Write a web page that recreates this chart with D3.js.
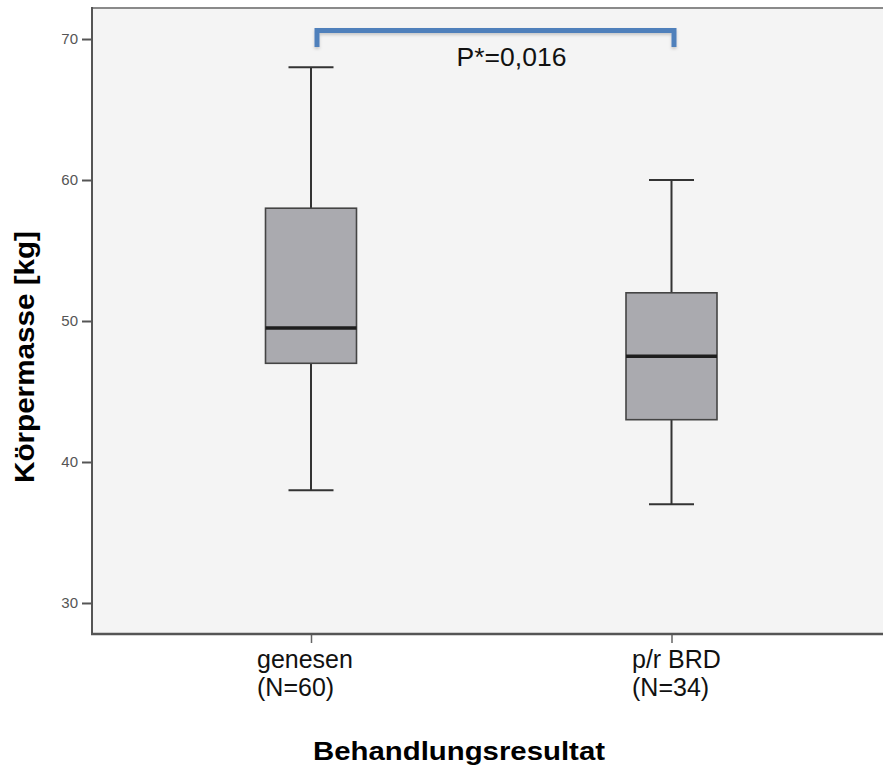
<!DOCTYPE html>
<html>
<head>
<meta charset="utf-8">
<script src="https://cdn.jsdelivr.net/npm/d3@7/dist/d3.min.js"></script>
<style>
  html, body { margin: 0; padding: 0; background: #ffffff; }
  svg { display: block; }
  text { font-family: "Liberation Sans", Arial, Helvetica, sans-serif; }
</style>
</head>
<body>
<svg id="chart" width="883" height="771"></svg>
<script>
// ---- data ----
const categories = ["genesen", "p/r BRD"];
const categoryLabels = [["genesen", "(N=60)"], ["p/r BRD", "(N=34)"]];
const whiskerLow  = [38, 37];
const q1          = [47, 43];
const median      = [49.5, 47.5];
const q3          = [58, 52];
const whiskerHigh = [68, 60];
const yTicks = [30, 40, 50, 60, 70];
const pValueText = "P*=0,016";
const yTitle = "Körpermasse [kg]";
const xTitle = "Behandlungsresultat";

// ---- layout ----
const plot = { left: 92, top: 8, right: 883, bottom: 634 };
const svg = d3.select("#chart");

const y = d3.scaleLinear().domain([27.8, 72.2]).range([plot.bottom, plot.top]);
const x = d3.scalePoint().domain(categories).range([311, 671.5]);

const boxW = 91, capW = 45;

// background
svg.append("rect")
  .attr("x", plot.left).attr("y", plot.top)
  .attr("width", plot.right - plot.left).attr("height", plot.bottom - plot.top)
  .attr("fill", "#f4f4f4");

// top border
svg.append("line")
  .attr("x1", plot.left).attr("x2", plot.right)
  .attr("y1", plot.top).attr("y2", plot.top)
  .attr("stroke", "#8a8a8a").attr("stroke-width", 2);

// y axis
const yAxis = d3.axisLeft(y).tickValues(yTicks).tickSize(10).tickPadding(4).tickFormat(d3.format("d"));
const gy = svg.append("g").attr("transform", `translate(${plot.left},0)`).call(yAxis);
gy.select(".domain").remove();
gy.selectAll(".tick line").attr("stroke", "#555").attr("stroke-width", 2);
gy.selectAll(".tick text").attr("fill", "#555").style("font-size", "15px");
svg.append("line")
  .attr("x1", plot.left).attr("x2", plot.left)
  .attr("y1", plot.top - 1).attr("y2", plot.bottom + 1)
  .attr("stroke", "#555").attr("stroke-width", 2);

// x axis
const xAxis = d3.axisBottom(x).tickSize(9).tickFormat("");
const gx = svg.append("g").attr("transform", `translate(0,${plot.bottom})`).call(xAxis);
gx.select(".domain").remove();
gx.selectAll(".tick line").attr("stroke", "#666").attr("stroke-width", 1.5);
svg.append("line")
  .attr("x1", plot.left - 1).attr("x2", plot.right)
  .attr("y1", plot.bottom).attr("y2", plot.bottom)
  .attr("stroke", "#555").attr("stroke-width", 2.5);

// category labels (left aligned, two lines)
const labelOffsets = [-54, -39.5];
categories.forEach((c, i) => {
  const t = svg.append("text")
    .attr("x", x(c) + labelOffsets[i])
    .attr("y", 668)
    .attr("fill", "#111")
    .style("font-size", "25px");
  categoryLabels[i].forEach((line, j) => {
    t.append("tspan").attr("x", x(c) + labelOffsets[i]).attr("dy", j === 0 ? 0 : 28).text(line);
  });
});

// boxes
const boxes = svg.append("g");
categories.forEach((c, i) => {
  const cx = x(c);
  const g = boxes.append("g");
  g.append("line").attr("x1", cx).attr("x2", cx).attr("y1", y(q3[i])).attr("y2", y(whiskerHigh[i]))
    .attr("stroke", "#333").attr("stroke-width", 2);
  g.append("line").attr("x1", cx).attr("x2", cx).attr("y1", y(q1[i])).attr("y2", y(whiskerLow[i]))
    .attr("stroke", "#333").attr("stroke-width", 2);
  [whiskerHigh[i], whiskerLow[i]].forEach(v => {
    g.append("line").attr("x1", cx - capW / 2).attr("x2", cx + capW / 2)
      .attr("y1", y(v)).attr("y2", y(v))
      .attr("stroke", "#333").attr("stroke-width", 2);
  });
  g.append("rect")
    .attr("x", cx - boxW / 2).attr("y", y(q3[i]))
    .attr("width", boxW).attr("height", y(q1[i]) - y(q3[i]))
    .attr("fill", "#aaaaaf").attr("stroke", "#444").attr("stroke-width", 1.6);
  g.append("line").attr("x1", cx - boxW / 2).attr("x2", cx + boxW / 2)
    .attr("y1", y(median[i])).attr("y2", y(median[i]))
    .attr("stroke", "#1e1e1e").attr("stroke-width", 3.5);
});

// significance bracket
const defs = svg.append("defs");
const f = defs.append("filter").attr("id", "shadow").attr("x", "-5%").attr("y", "-50%").attr("width", "110%").attr("height", "200%");
f.append("feDropShadow").attr("dx", 0).attr("dy", 2).attr("stdDeviation", 1.5).attr("flood-color", "#000").attr("flood-opacity", 0.18);

const bx1 = x(categories[0]) + 6, bx2 = x(categories[1]) + 2.5;
const bTop = 30.5, bLeg = 47;
svg.append("path")
  .attr("d", `M${bx1},${bLeg} L${bx1},${bTop} L${bx2},${bTop} L${bx2},${bLeg}`)
  .attr("fill", "none").attr("stroke", "#4f80bb").attr("stroke-width", 5)
  .attr("filter", "url(#shadow)");
svg.append("text")
  .attr("x", (bx1 + bx2) / 2 + 16).attr("y", 66)
  .attr("text-anchor", "middle").attr("fill", "#111")
  .style("font-size", "26.5px")
  .text(pValueText);

// axis titles
svg.append("text")
  .attr("transform", `translate(34,357) rotate(-90)`)
  .attr("text-anchor", "middle")
  .attr("fill", "#000").style("font-weight", "bold").style("font-size", "28px")
  .attr("textLength", 252).attr("lengthAdjust", "spacingAndGlyphs")
  .text(yTitle);

svg.append("text")
  .attr("x", 459).attr("y", 760)
  .attr("text-anchor", "middle")
  .attr("fill", "#000").style("font-weight", "bold").style("font-size", "25px")
  .attr("textLength", 292).attr("lengthAdjust", "spacingAndGlyphs")
  .text(xTitle);
</script>
</body>
</html>
